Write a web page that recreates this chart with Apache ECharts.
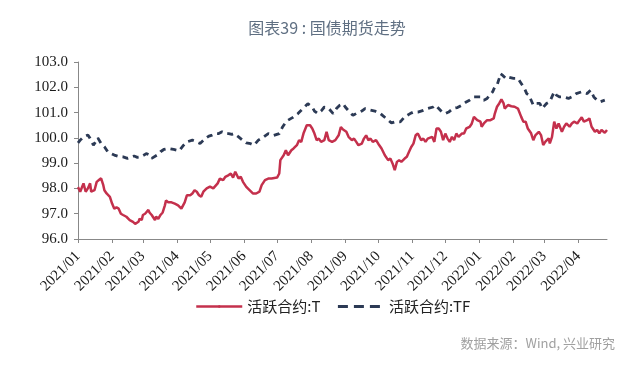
<!DOCTYPE html>
<html>
<head>
<meta charset="utf-8">
<script src="https://cdn.jsdelivr.net/npm/echarts@6/dist/echarts.min.js"></script>
<style>
html,body{margin:0;padding:0;background:#fff;}
#c{width:640px;height:372px;}
</style>
</head>
<body>
<div id="c"></div>
<script>
var titleText = '图表39 : 国债期货走势';
var sourceText = '数据来源：Wind, 兴业研究';
var seriesNames = ['活跃合约:T', '活跃合约:TF'];
var yTicks = [96, 97, 98, 99, 100, 101, 102, 103];

var tDates = [
'2021-01-01','2021-01-03','2021-01-06','2021-01-08','2021-01-10','2021-01-12','2021-01-13','2021-01-16','2021-01-18','2021-01-20',
'2021-01-22','2021-01-24','2021-01-25','2021-01-27','2021-01-28','2021-01-30','2021-02-01','2021-02-03','2021-02-05','2021-02-07',
'2021-02-09','2021-02-11','2021-02-14','2021-02-17','2021-02-20','2021-02-22','2021-02-23','2021-02-25','2021-02-26','2021-02-28',
'2021-03-01','2021-03-03','2021-03-06','2021-03-07','2021-03-09','2021-03-12','2021-03-13','2021-03-15','2021-03-17','2021-03-19',
'2021-03-21','2021-03-22','2021-03-24','2021-03-27','2021-03-30','2021-04-02','2021-04-05','2021-04-08','2021-04-10','2021-04-13',
'2021-04-15','2021-04-17','2021-04-19','2021-04-21','2021-04-23','2021-04-25','2021-04-28','2021-05-01','2021-05-04','2021-05-05',
'2021-05-08','2021-05-10','2021-05-13','2021-05-15','2021-05-18','2021-05-20','2021-05-22','2021-05-24','2021-05-27','2021-05-29',
'2021-05-31','2021-06-03','2021-06-06','2021-06-09','2021-06-12','2021-06-15','2021-06-17','2021-06-20','2021-06-23','2021-06-26',
'2021-06-27','2021-07-01','2021-07-03','2021-07-04','2021-07-07','2021-07-09','2021-07-11','2021-07-14','2021-07-16','2021-07-19',
'2021-07-21','2021-07-23','2021-07-25','2021-07-28','2021-07-31','2021-08-02','2021-08-04','2021-08-06','2021-08-08','2021-08-10',
'2021-08-13','2021-08-15','2021-08-17','2021-08-20','2021-08-23','2021-08-26','2021-08-28','2021-08-30','2021-08-31','2021-09-02',
'2021-09-04','2021-09-07','2021-09-09','2021-09-11','2021-09-13','2021-09-16','2021-09-18','2021-09-20','2021-09-22','2021-09-24',
'2021-09-26','2021-09-29','2021-10-01','2021-10-04','2021-10-07','2021-10-10','2021-10-12','2021-10-14','2021-10-16','2021-10-18',
'2021-10-20','2021-10-22','2021-10-25','2021-10-27','2021-10-29','2021-10-31','2021-11-02','2021-11-04','2021-11-06','2021-11-09',
'2021-11-11','2021-11-13','2021-11-15','2021-11-19','2021-11-21','2021-11-23','2021-11-25','2021-11-27','2021-11-29','2021-12-01',
'2021-12-03','2021-12-05','2021-12-07','2021-12-09','2021-12-11','2021-12-13','2021-12-16','2021-12-18','2021-12-20','2021-12-23',
'2021-12-25','2021-12-27','2021-12-28','2021-12-30','2022-01-02','2022-01-03','2022-01-05','2022-01-08','2022-01-11','2022-01-14',
'2022-01-15','2022-01-17','2022-01-19','2022-01-21','2022-01-23','2022-01-24','2022-01-27','2022-01-30','2022-02-02','2022-02-05',
'2022-02-08','2022-02-10','2022-02-12','2022-02-14','2022-02-17','2022-02-19','2022-02-21','2022-02-24','2022-02-26','2022-02-28',
'2022-03-02','2022-03-05','2022-03-06','2022-03-08','2022-03-10','2022-03-12','2022-03-14','2022-03-17','2022-03-19','2022-03-21',
'2022-03-24','2022-03-26','2022-03-28','2022-03-31','2022-04-02','2022-04-04','2022-04-06','2022-04-09','2022-04-11','2022-04-13',
'2022-04-16','2022-04-18','2022-04-20','2022-04-22','2022-04-25','2022-04-27'
];
var tValues = [
98.05,97.87,98.2,97.87,98.0,98.2,97.87,97.93,98.26,98.33,
98.4,98.13,97.93,97.8,97.87,97.67,97.4,97.2,97.25,97.2,
97.0,96.95,96.88,96.75,96.68,96.6,96.53,96.68,96.8,96.75,
96.95,97.0,97.15,97.05,96.95,96.75,96.88,96.8,96.95,97.05,
97.33,97.52,97.45,97.45,97.4,97.33,97.2,97.45,97.73,97.73,
97.8,97.93,97.87,97.73,97.67,97.87,98.0,98.07,98.0,98.06,
98.2,98.39,98.33,98.46,98.53,98.59,98.43,98.66,98.39,98.46,
98.26,98.06,97.93,97.8,97.8,97.87,98.13,98.33,98.39,98.39,
98.46,98.43,98.59,99.12,99.31,99.51,99.31,99.51,99.58,99.71,
99.91,99.84,100.17,100.5,100.5,100.37,100.17,99.91,99.97,99.84,
99.91,100.24,99.91,99.84,99.91,100.1,100.43,100.33,100.37,100.24,
100.04,99.91,99.97,99.84,99.71,99.77,99.97,100.1,99.91,99.97,
99.84,99.91,99.77,99.58,99.31,99.12,99.18,98.99,98.72,99.05,
99.12,99.05,99.18,99.25,99.45,99.64,99.77,100.1,100.17,99.91,
99.97,99.84,99.97,100.04,99.84,100.37,100.37,100.24,99.91,100.17,
99.97,99.84,100.04,99.91,100.17,100.04,100.17,100.17,100.37,100.43,
100.56,100.83,100.77,100.7,100.64,100.44,100.57,100.7,100.7,100.77,
100.96,101.23,101.36,101.52,101.36,101.16,101.3,101.25,101.23,101.16,
100.83,100.64,100.64,100.37,100.18,99.91,100.11,100.24,100.11,99.72,
99.85,99.98,99.78,100.04,100.64,100.37,100.57,100.24,100.44,100.57,
100.44,100.57,100.64,100.57,100.7,100.81,100.64,100.7,100.77,100.44,
100.24,100.31,100.18,100.31,100.2,100.31
];

var tfDates = [
'2021-01-01','2021-01-03','2021-01-06','2021-01-10','2021-01-12','2021-01-15','2021-01-17','2021-01-19','2021-01-22','2021-01-25',
'2021-01-28','2021-01-31','2021-02-03','2021-02-06','2021-02-11','2021-02-15','2021-02-18','2021-02-21','2021-02-24','2021-02-27',
'2021-03-02','2021-03-04','2021-03-07','2021-03-09','2021-03-14','2021-03-17','2021-03-20','2021-03-24','2021-03-29','2021-04-03',
'2021-04-07','2021-04-10','2021-04-15','2021-04-19','2021-04-22','2021-04-27','2021-04-30','2021-05-03','2021-05-06','2021-05-09',
'2021-05-12','2021-05-15','2021-05-18','2021-05-21','2021-05-23','2021-05-27','2021-05-30','2021-06-03','2021-06-07','2021-06-10',
'2021-06-14','2021-06-19','2021-06-23','2021-06-28','2021-07-03','2021-07-06','2021-07-08','2021-07-11','2021-07-15','2021-07-20',
'2021-07-23','2021-07-26','2021-07-29','2021-08-02','2021-08-04','2021-08-07','2021-08-10','2021-08-13','2021-08-17','2021-08-21',
'2021-08-24','2021-08-27','2021-08-30','2021-09-01','2021-09-05','2021-09-08','2021-09-11','2021-09-16','2021-09-19','2021-09-22',
'2021-09-28','2021-10-03','2021-10-10','2021-10-13','2021-10-16','2021-10-21','2021-10-25','2021-10-30','2021-11-02','2021-11-06',
'2021-11-11','2021-11-15','2021-11-20','2021-11-22','2021-11-25','2021-11-28','2021-12-01','2021-12-04','2021-12-08','2021-12-12',
'2021-12-16','2021-12-20','2021-12-23','2021-12-27','2021-12-28','2022-01-02','2022-01-05','2022-01-08','2022-01-13','2022-01-15',
'2022-01-17','2022-01-19','2022-01-20','2022-01-22','2022-01-25','2022-01-27','2022-02-01','2022-02-05','2022-02-08','2022-02-11',
'2022-02-13','2022-02-15','2022-02-19','2022-02-21','2022-02-25','2022-02-27','2022-03-03','2022-03-06','2022-03-10','2022-03-12',
'2022-03-15','2022-03-18','2022-03-23','2022-03-26','2022-03-30','2022-04-04','2022-04-09','2022-04-12','2022-04-15','2022-04-18',
'2022-04-21','2022-04-25'
];
var tfValues = [
99.8,99.91,100.04,100.11,99.98,99.71,99.84,100.0,99.78,99.65,
99.45,99.38,99.32,99.28,99.25,99.19,99.23,99.28,99.23,99.25,
99.32,99.38,99.32,99.19,99.32,99.45,99.54,99.58,99.54,99.49,
99.71,99.84,99.91,99.84,99.78,99.98,100.07,100.11,100.17,100.17,
100.24,100.17,100.17,100.14,100.17,100.04,99.93,99.8,99.77,99.71,
99.91,100.04,100.17,100.1,100.17,100.43,100.56,100.7,100.8,100.96,
101.09,101.22,101.35,101.22,101.06,100.96,101.06,101.22,101.16,100.96,
101.16,101.29,101.35,101.22,101.02,100.89,100.96,101.06,101.16,101.12,
101.06,100.96,100.7,100.59,100.63,100.63,100.83,100.96,101.02,101.02,
101.09,101.16,101.22,101.29,101.16,101.02,100.96,101.02,101.16,101.2,
101.29,101.42,101.49,101.62,101.69,101.62,101.49,101.56,101.82,102.02,
102.08,102.35,102.54,102.48,102.35,102.41,102.35,102.35,102.15,101.95,
101.75,101.69,101.29,101.36,101.36,101.16,101.36,101.43,101.82,101.69,
101.62,101.62,101.56,101.62,101.75,101.82,101.75,101.88,101.62,101.49,
101.43,101.49
];

function pairs(d, v) { return d.map(function (x, i) { return [x, v[i]]; }); }

var chart = echarts.init(document.getElementById('c'), null, { renderer: 'canvas' });
var serif = '"Liberation Serif", "Times New Roman", serif';
var cjk = '"Noto Sans CJK SC", "Noto Sans", sans-serif';
var redColor = '#c4304c';
var navyColor = '#2c3a55';

chart.setOption({
  animation: false,
  backgroundColor: '#ffffff',
  title: [{
    text: titleText,
    left: 322, top: 15, textAlign: 'center',
    textStyle: { fontFamily: cjk, fontSize: 16, fontWeight: 'normal', color: '#5f6f82' }
  }, {
    text: sourceText,
    right: 20, top: 332,
    textStyle: { fontFamily: cjk, fontSize: 13, fontWeight: 'normal', color: '#a0a0a0' }
  }],
  legend: {
    left: 190, top: 294,
    itemWidth: 46, itemHeight: 3, itemGap: 16,
    textStyle: { fontFamily: cjk, fontSize: 15, color: '#222' },
    data: [
      { name: seriesNames[0], lineStyle: { color: redColor, width: 2.5, type: 'solid' } },
      { name: seriesNames[1], lineStyle: { color: navyColor, width: 3, type: [10, 6] } }
    ]
  },
  grid: { left: 78, right: 33, top: 62, bottom: 133, containLabel: false },
  xAxis: {
    type: 'time',
    min: '2021-01-01',
    max: '2022-04-27',
    minInterval: 28 * 86400000,
    maxInterval: 31 * 86400000,
    splitLine: { show: false },
    axisLine: { lineStyle: { color: '#888', width: 1 } },
    axisTick: { show: true, length: 4, lineStyle: { color: '#888' } },
    axisLabel: {
      rotate: 45,
      showMaxLabel: false,
      hideOverlap: false,
      fontFamily: serif, fontSize: 15, color: '#1a1a1a', margin: 15,
      formatter: function (val) {
        var d = new Date(val);
        var m = d.getMonth() + 1;
        return d.getFullYear() + '/' + (m < 10 ? '0' + m : m);
      }
    }
  },
  yAxis: {
    type: 'value',
    min: yTicks[0], max: yTicks[yTicks.length - 1], interval: 1,
    splitLine: { show: false },
    axisLine: { show: true, lineStyle: { color: '#888', width: 1 } },
    axisTick: { show: true, length: 4, lineStyle: { color: '#888' } },
    axisLabel: {
      fontFamily: serif, fontSize: 15, color: '#1a1a1a', margin: 10,
      formatter: function (v) { return v.toFixed(1); }
    }
  },
  series: [{
    name: seriesNames[0],
    type: 'line',
    data: pairs(tDates, tValues),
    symbol: 'none', showSymbol: false,
    lineStyle: { color: redColor, width: 2.5 },
    itemStyle: { color: redColor },
    z: 3
  }, {
    name: seriesNames[1],
    type: 'line',
    data: pairs(tfDates, tfValues),
    symbol: 'none', showSymbol: false,
    lineStyle: { color: navyColor, width: 2.8, type: [6, 5] },
    itemStyle: { color: navyColor },
    z: 2
  }]
});
</script>
</body>
</html>
